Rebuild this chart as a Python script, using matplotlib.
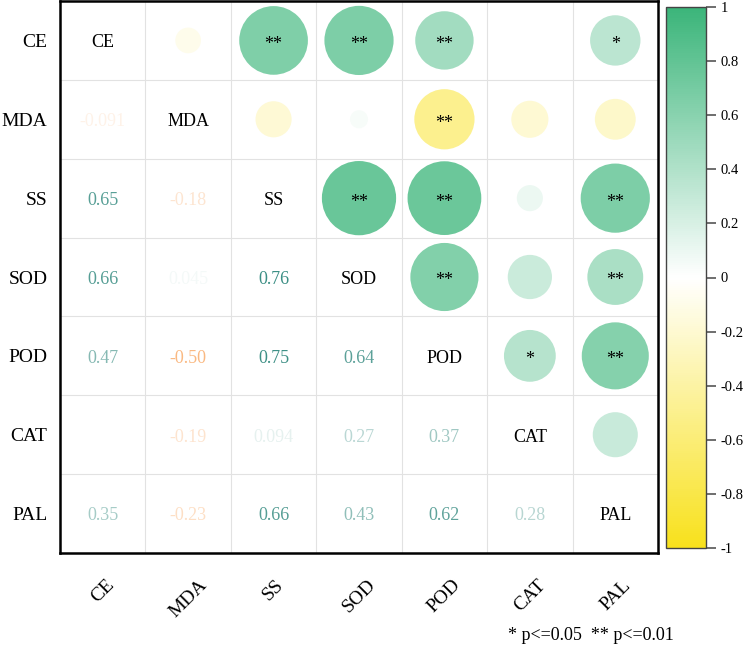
#!/usr/bin/env python3

import numpy as np
import matplotlib
matplotlib.use('Agg')
import matplotlib.pyplot as plt
from matplotlib.colors import LinearSegmentedColormap, Normalize
from matplotlib.colorbar import ColorbarBase

plt.rc('font', **{'family': 'serif', 'serif': ['Liberation Serif', 'DejaVu Serif'], 'size': 13})
plt.rc('axes', unicode_minus=False)

labels = ['CE', 'MDA', 'SS', 'SOD', 'POD', 'CAT', 'PAL']

# lower triangle of the correlation matrix, row by row
r_MDA = [-0.091]
r_SS = [0.65, -0.18]
r_SOD = [0.66, 0.045, 0.76]
r_POD = [0.47, -0.50, 0.75, 0.64]
r_CAT = [0.0, -0.19, 0.094, 0.27, 0.37]
r_PAL = [0.35, -0.23, 0.66, 0.43, 0.62, 0.28]
lowerRows = [[], r_MDA, r_SS, r_SOD, r_POD, r_CAT, r_PAL]

# significance marks for the upper triangle (row, col, mark)
stars = [('CE', 'SS', '**'), ('CE', 'SOD', '**'), ('CE', 'POD', '**'), ('CE', 'PAL', '*'),
         ('MDA', 'POD', '**'),
         ('SS', 'SOD', '**'), ('SS', 'POD', '**'), ('SS', 'PAL', '**'),
         ('SOD', 'POD', '**'), ('SOD', 'PAL', '**'),
         ('POD', 'CAT', '*'), ('POD', 'PAL', '**')]

cbarTicks = [1, 0.8, 0.6, 0.4, 0.2, 0, -0.2, -0.4, -0.6, -0.8, -1]
note = '* p<=0.05  ** p<=0.01'

n = len(labels)
corr = np.eye(n)
for i, row in enumerate(lowerRows):
    for j, v in enumerate(row):
        corr[i, j] = v
        corr[j, i] = v

circleCmap = LinearSegmentedColormap.from_list('yw_g', ['#F8E11C', '#FFFFFF', '#3BB57A'])
textCmap = LinearSegmentedColormap.from_list('or_tl', ['#F57305', '#FFFFFF', '#006C5F'])
norm = Normalize(-1, 1)

W, H = 747, 647
fig = plt.figure(figsize=(W / 100, H / 100), dpi=100)
ax = fig.add_axes([60 / W, 1 - 553 / H, 598 / W, 552 / H])

ax.set_xlim(-0.5, n - 0.5)
ax.set_ylim(n - 0.5, -0.5)

# light grid at the cell borders
for k in range(1, n):
    ax.axvline(k - 0.5, color='#e2e2e2', lw=0.8, zorder=0)
    ax.axhline(k - 0.5, color='#e2e2e2', lw=0.8, zorder=0)

# circle size in points from the row height
rowPt = 552 / n * 72 / 100
xs, ys, ss, cs = [], [], [], []
for i in range(n):
    for j in range(i + 1, n):
        d = rowPt * 1.08 * np.sqrt(abs(corr[i, j]))
        xs.append(j)
        ys.append(i)
        ss.append(d ** 2)
        cs.append(circleCmap(norm(corr[i, j])))
ax.scatter(xs, ys, s=ss, c=cs, linewidths=0, zorder=2)

for (a, b, mark) in stars:
    i, j = labels.index(a), labels.index(b)
    ax.text(j, i + 0.05, mark, ha='center', va='center', fontsize=13, color='black', zorder=3)

for i in range(n):
    ax.text(i, i + 0.03, labels[i], ha='center', va='center', fontsize=13, color='black')
    for j in range(i):
        v = corr[i, j]
        if v == 0:
            # blank in the original (colour is white there)
            continue
        txt = f'{v:.3f}' if abs(v) < 0.1 else f'{v:.2f}'
        ax.text(j, i + 0.03, txt, ha='center', va='center', fontsize=13, color=textCmap(norm(v)))

ax.set_xticks(range(n))
ax.set_yticks(range(n))
ax.set_xticklabels(labels, rotation=45, ha='center', va='top', fontsize=14)
ax.set_yticklabels(labels, fontsize=14)
ax.tick_params(axis='both', length=0)
ax.tick_params(axis='x', pad=17)
ax.tick_params(axis='y', pad=9)
for sp in ax.spines.values():
    sp.set_linewidth(1.8)
    sp.set_color('black')

cax = fig.add_axes([666 / W, 1 - 548 / H, 40 / W, 541 / H])
cb = ColorbarBase(cax, cmap=circleCmap, norm=norm, orientation='vertical')
cb.set_ticks(cbarTicks)
cb.set_ticklabels([f'{t:g}' for t in cbarTicks])
cb.outline.set_linewidth(1.0)
cb.outline.set_edgecolor('#444444')
cax.tick_params(length=7.5, width=1.2, color='#555555', labelsize=10.5, pad=3)

fig.text(508 / W, 1 - 635 / H, note, ha='left', va='center', fontsize=13)

fig.savefig('out.png', dpi=100)
